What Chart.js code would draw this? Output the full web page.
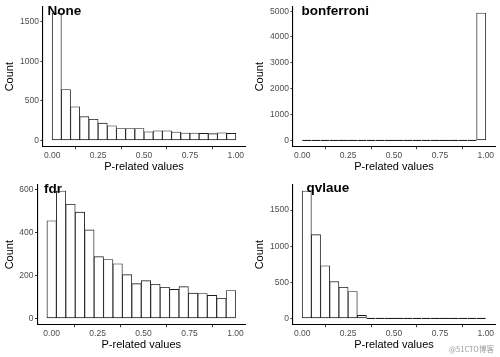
<!DOCTYPE html>
<html>
<head>
<meta charset="utf-8">
<script src="https://cdn.jsdelivr.net/npm/chart.js@4/dist/chart.umd.min.js"></script>
<style>
  html, body { margin: 0; padding: 0; background: #ffffff; }
  #wrap { position: relative; width: 500px; height: 357px; overflow: hidden; background: #fff; }
  canvas { position: absolute; }
  .lab { position: absolute; font-family: "Liberation Sans", Arial, sans-serif; font-weight: bold;
         font-size: 13.5px; line-height: 13.5px; color: #000; white-space: nowrap; }
  .wm { position: absolute; font-family: "Noto Sans CJK SC", "Liberation Sans", sans-serif;
        font-size: 7.5px; color: #9a9a9a; white-space: nowrap; }
</style>
</head>
<body>
<div id="wrap">
  <canvas id="c1" width="250" height="178" style="left:0;top:0"></canvas>
  <canvas id="c2" width="250" height="178" style="left:250px;top:0"></canvas>
  <canvas id="c3" width="250" height="178" style="left:0;top:178px"></canvas>
  <canvas id="c4" width="250" height="178" style="left:250px;top:178px"></canvas>
  <div class="lab" style="left:47.5px;top:3.6px">None</div>
  <div class="lab" style="left:301.5px;top:3.6px">bonferroni</div>
  <div class="lab" style="left:44px;top:181.6px">fdr</div>
  <div class="lab" style="left:306.5px;top:181px">qvlaue</div>
  <div class="wm" style="left:449px;top:343px">@51CTO博客</div>
</div>
<script>
// ---- data ----
const xTicks = [0, 0.25, 0.5, 0.75, 1];
const binCenters = [0.025, 0.075, 0.125, 0.175, 0.225, 0.275, 0.325, 0.375, 0.425, 0.475,
                    0.525, 0.575, 0.625, 0.675, 0.725, 0.775, 0.825, 0.875, 0.925, 0.975];
const fdrBinCenters = [0, 0.0513, 0.1026, 0.1539, 0.2053, 0.2566, 0.3079, 0.3592, 0.4105, 0.4618,
                       0.5132, 0.5645, 0.6158, 0.6671, 0.7184, 0.7697, 0.8211, 0.8724, 0.9237, 0.975];
const noneCounts = [1610, 642, 425, 300, 267, 217, 184, 150, 150, 150,
                    109, 121, 121, 105, 92, 92, 88, 84, 96, 88];
const bonferroniCounts = [0, 0, 0, 0, 0, 0, 0, 0, 0, 0,
                          0, 0, 0, 0, 0, 0, 0, 0, 0, 4930];
const fdrCounts = [456, 595, 533, 496, 413, 288, 275, 255, 204, 162,
                   176, 159, 145, 135, 148, 118, 116, 107, 94, 130];
const qvalueCounts = [1766, 1160, 729, 509, 431, 372, 41, 0, 0, 0,
                      0, 0, 0, 0, 0, 0, 0, 0, 0, 0];
const noneYTicks = [0, 500, 1000, 1500];
const bonferroniYTicks = [0, 1000, 2000, 3000, 4000, 5000];
const fdrYTicks = [0, 200, 400, 600];
const qvalueYTicks = [0, 500, 1000, 1500];
const xTitle = 'P-related values';
const yTitle = 'Count';

const FONT = '"Liberation Sans", Arial, sans-serif';

function makePanel(id, centers, counts, yTicks, yAxisWidth) {
  const half = (centers[1] - centers[0]) / 2;
  const lo = centers[0] - half, hi = centers[centers.length - 1] + half;
  const xExp = 0.05 * (hi - lo);
  const yMax = Math.max(...counts);
  new Chart(document.getElementById(id), {
    type: 'bar',
    data: {
      datasets: [{
        data: centers.map((c, i) => ({ x: c, y: counts[i] })),
        backgroundColor: '#ffffff',
        borderColor: '#1e1e1e',
        borderWidth: 0.9,
        borderSkipped: false,
        inflateAmount: c => (c.raw && c.raw.y === 0) ? 0 : 0.33,
        barPercentage: 1,
        categoryPercentage: 1,
        minBarLength: 1.4
      }]
    },
    options: {
      responsive: false,
      animation: false,
      devicePixelRatio: 1,
      layout: { padding: { top: 5.5, right: 5, left: 0, bottom: 0 } },
      plugins: { legend: { display: false }, tooltip: { enabled: false } },
      scales: {
        x: {
          type: 'linear',
          offset: false,
          min: lo - xExp,
          max: hi + xExp,
          afterBuildTicks: s => { s.ticks = xTicks.map(v => ({ value: v })); },
          afterFit: s => { s.height = 31.3; },
          ticks: {
            callback: v => Number(v).toFixed(2),
            color: '#4d4d4d',
            font: { family: FONT, size: 8.5 },
            padding: 1,
            maxRotation: 0,
            autoSkip: false
          },
          grid: { display: true, drawOnChartArea: false, drawTicks: true, tickLength: 2.5, color: '#333333', lineWidth: 1 },
          border: { display: true, color: '#000000', width: 1.1 },
          title: { display: true, text: xTitle, color: '#000000', font: { family: FONT, size: 11 }, padding: { top: 0, bottom: 4.5 } }
        },
        y: {
          type: 'linear',
          min: -0.05 * yMax,
          max: 1.05 * yMax,
          afterBuildTicks: s => { s.ticks = yTicks.map(v => ({ value: v })); },
          afterFit: s => { s.width = yAxisWidth; },
          ticks: {
            callback: v => String(v),
            color: '#4d4d4d',
            font: { family: FONT, size: 8.5 },
            padding: 1.5,
            autoSkip: false
          },
          grid: { display: true, drawOnChartArea: false, drawTicks: true, tickLength: 2.5, color: '#333333', lineWidth: 1 },
          border: { display: true, color: '#000000', width: 1.1 },
          title: { display: true, text: yTitle, color: '#000000', font: { family: FONT, size: 11 }, padding: { top: 2.9, bottom: 0 } }
        }
      }
    }
  });
}

makePanel('c1', binCenters, noneCounts, noneYTicks, 43);
makePanel('c2', binCenters, bonferroniCounts, bonferroniYTicks, 43);
makePanel('c3', fdrBinCenters, fdrCounts, fdrYTicks, 37.5);
makePanel('c4', binCenters, qvalueCounts, qvalueYTicks, 43);
</script>
</body>
</html>
